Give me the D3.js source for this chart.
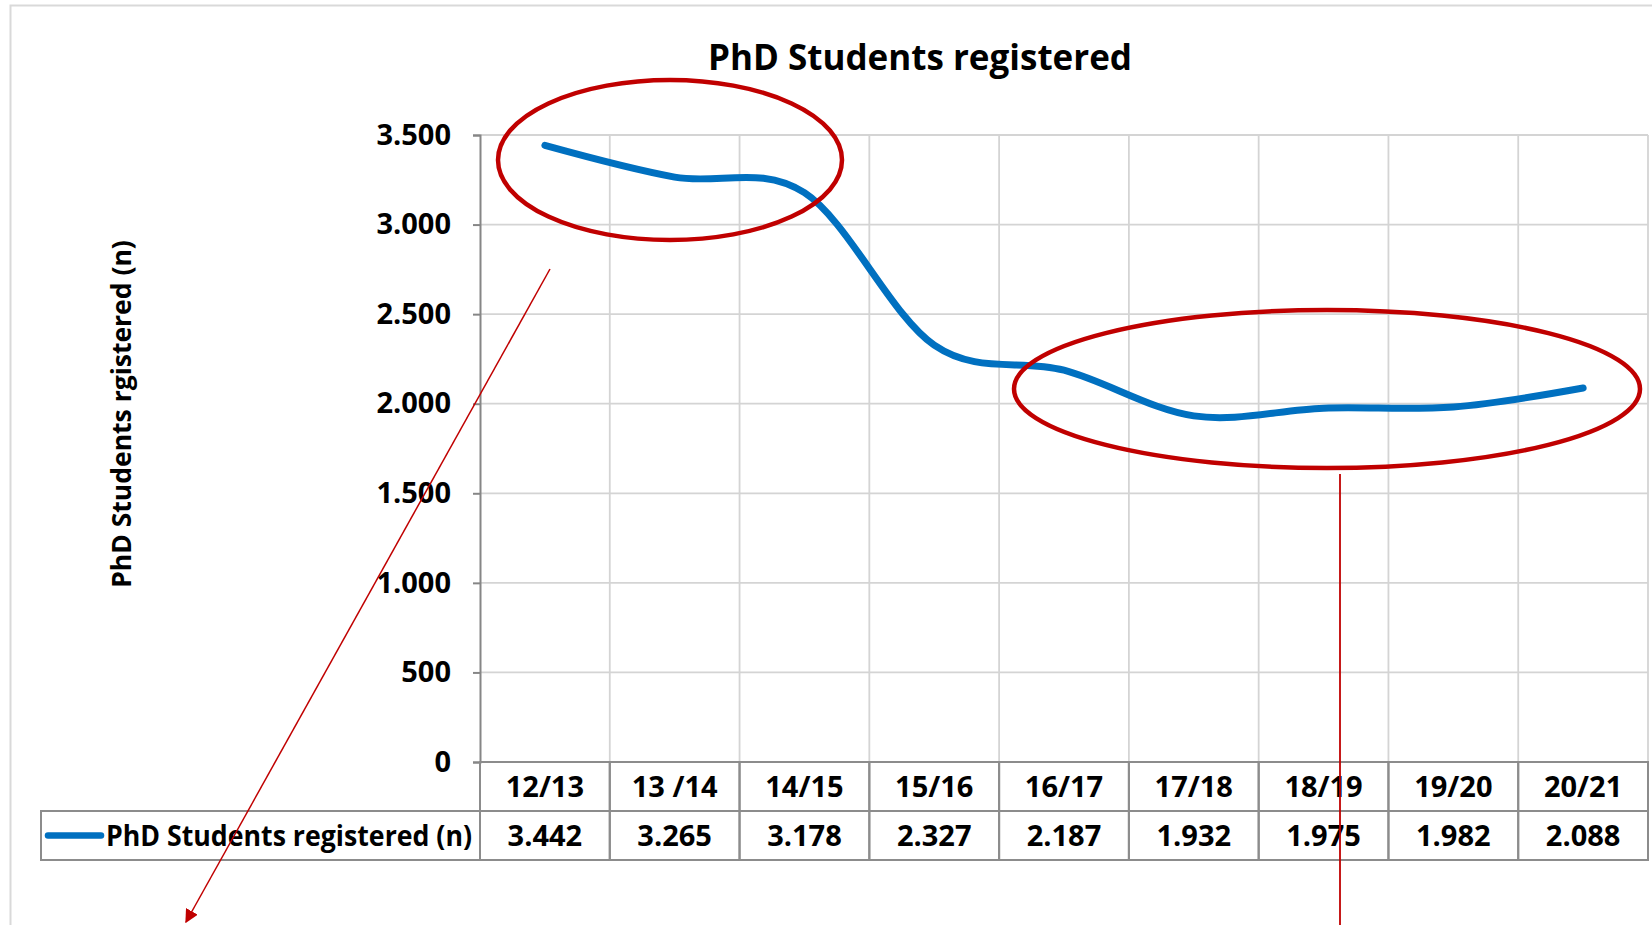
<!DOCTYPE html>
<html>
<head>
<meta charset="utf-8">
<script src="https://cdn.jsdelivr.net/npm/d3@7"></script>
<style>
  body { margin: 0; background: #fff; }
  svg { display: block; font-family: "Open Sans", "Noto Sans", sans-serif; }
  .grid line { stroke: #d4d4d4; stroke-width: 1.8; }
  .tick-label { font-size: 29px; font-weight: 700; fill: #000; }
  .cell { fill: none; stroke: #8c8c8c; stroke-width: 2; }
  .cell-text { font-size: 29px; font-weight: 700; fill: #000; }
</style>
</head>
<body>
<svg width="1652" height="925"></svg>
<script>
const seasons = ['12/13', '13 /14', '14/15', '15/16', '16/17', '17/18', '18/19', '19/20', '20/21'];
const students = [3442, 3265, 3178, 2327, 2187, 1932, 1975, 1982, 2088];
const yTicks = [0, 500, 1000, 1500, 2000, 2500, 3000, 3500];
const seriesName = 'PhD Students registered (n)';
const chartTitle = 'PhD Students registered';
const yTitle = 'PhD Students rgistered (n)';

const svg = d3.select('svg');
const fmt = d => d3.format(',')(d).replace(/,/g, '.');

const plotLeft = 480, plotRight = 1648, plotTop = 135, plotBottom = 762;
const rowH = 49;

const x = d3.scaleBand().domain(seasons).range([plotLeft, plotRight]).padding(0);
const y = d3.scaleLinear().domain([0, 3500]).range([plotBottom, plotTop]);

// outer frame
svg.append('path')
    .attr('d', `M10.5,925 V5.5 H1652`)
    .attr('fill', 'none')
    .attr('stroke', '#d9d9d9')
    .attr('stroke-width', 2);

svg.append('text')
    .attr('x', 920).attr('y', 70)
    .attr('text-anchor', 'middle')
    .style('font-size', '35px').style('font-weight', 700)
    .text(chartTitle);

svg.append('text')
    .attr('transform', `translate(122, 414) rotate(-90)`)
    .attr('text-anchor', 'middle')
    .attr('dy', '0.35em')
    .style('font-size', '26.5px').style('font-weight', 700)
    .text(yTitle);

// gridlines
const grid = svg.append('g').attr('class', 'grid');
grid.selectAll('.h').data(yTicks.slice(1)).enter().append('line')
    .attr('x1', plotLeft).attr('x2', plotRight)
    .attr('y1', d => y(d)).attr('y2', d => y(d));
grid.selectAll('.v').data(seasons).enter().append('line')
    .attr('x1', d => x(d) + x.bandwidth()).attr('x2', d => x(d) + x.bandwidth())
    .attr('y1', plotTop).attr('y2', plotBottom);

// y axis
const yAxis = svg.append('g')
    .attr('transform', `translate(${plotLeft},0)`)
    .call(d3.axisLeft(y).tickValues(yTicks).tickFormat(fmt).tickSize(7).tickPadding(22));
yAxis.select('.domain').attr('stroke', '#868686').attr('stroke-width', 2);
yAxis.selectAll('.tick line').attr('stroke', '#868686').attr('stroke-width', 2);
yAxis.selectAll('.tick text').attr('class', 'tick-label');
yAxis.attr('font-family', null).attr('font-size', null);

// data table
const table = svg.append('g');
table.selectAll('.cat').data(seasons).enter().append('rect')
    .attr('class', 'cell')
    .attr('x', d => x(d)).attr('y', plotBottom)
    .attr('width', x.bandwidth()).attr('height', rowH);
table.selectAll('.val').data(seasons).enter().append('rect')
    .attr('class', 'cell')
    .attr('x', d => x(d)).attr('y', plotBottom + rowH)
    .attr('width', x.bandwidth()).attr('height', rowH);
table.append('rect')
    .attr('class', 'cell')
    .attr('x', 41).attr('y', plotBottom + rowH)
    .attr('width', plotLeft - 41).attr('height', rowH);

table.selectAll('.cat-text').data(seasons).enter().append('text')
    .attr('class', 'cell-text')
    .attr('x', d => x(d) + x.bandwidth() / 2)
    .attr('y', plotBottom + rowH / 2)
    .attr('dy', '0.36em')
    .attr('text-anchor', 'middle')
    .text(d => d);
table.selectAll('.val-text').data(students).enter().append('text')
    .attr('class', 'cell-text')
    .attr('x', (d, i) => x(seasons[i]) + x.bandwidth() / 2)
    .attr('y', plotBottom + rowH * 1.5)
    .attr('dy', '0.36em')
    .attr('text-anchor', 'middle')
    .text(fmt);

table.append('line')
    .attr('x1', 48).attr('x2', 101)
    .attr('y1', plotBottom + rowH * 1.5).attr('y2', plotBottom + rowH * 1.5)
    .attr('stroke', '#0070c0').attr('stroke-width', 6.5).attr('stroke-linecap', 'round');
table.append('text')
    .attr('class', 'cell-text')
    .attr('x', 106).attr('y', plotBottom + rowH * 1.5)
    .attr('dy', '0.36em')
    .attr('textLength', 366).attr('lengthAdjust', 'spacingAndGlyphs')
    .text(seriesName);

// smoothed series line
const line = d3.line()
    .x((d, i) => x(seasons[i]) + x.bandwidth() / 2)
    .y(d => y(d))
    .curve(d3.curveCatmullRom.alpha(0));
svg.append('path')
    .datum(students)
    .attr('d', line)
    .attr('fill', 'none')
    .attr('stroke', '#0070c0')
    .attr('stroke-width', 7)
    .attr('stroke-linecap', 'round');

// annotations
const red = '#c00000';
svg.append('defs').append('marker')
    .attr('id', 'arrow').attr('viewBox', '0 0 10 10')
    .attr('refX', 9).attr('refY', 5)
    .attr('markerWidth', 9).attr('markerHeight', 9)
    .attr('orient', 'auto')
    .append('path').attr('d', 'M0,0 L10,5 L0,10 z').attr('fill', red);

svg.append('ellipse')
    .attr('cx', 670).attr('cy', 160).attr('rx', 172).attr('ry', 80)
    .attr('fill', 'none').attr('stroke', red).attr('stroke-width', 4.5);
svg.append('ellipse')
    .attr('cx', 1327).attr('cy', 389).attr('rx', 313).attr('ry', 79)
    .attr('fill', 'none').attr('stroke', red).attr('stroke-width', 4.5);

svg.append('line')
    .attr('x1', 550).attr('y1', 269).attr('x2', 186).attr('y2', 922)
    .attr('stroke', red).attr('stroke-width', 1.5)
    .attr('marker-end', 'url(#arrow)');
svg.append('line')
    .attr('x1', 1340).attr('y1', 474).attr('x2', 1340).attr('y2', 925)
    .attr('stroke', red).attr('stroke-width', 1.8);
</script>
</body>
</html>
